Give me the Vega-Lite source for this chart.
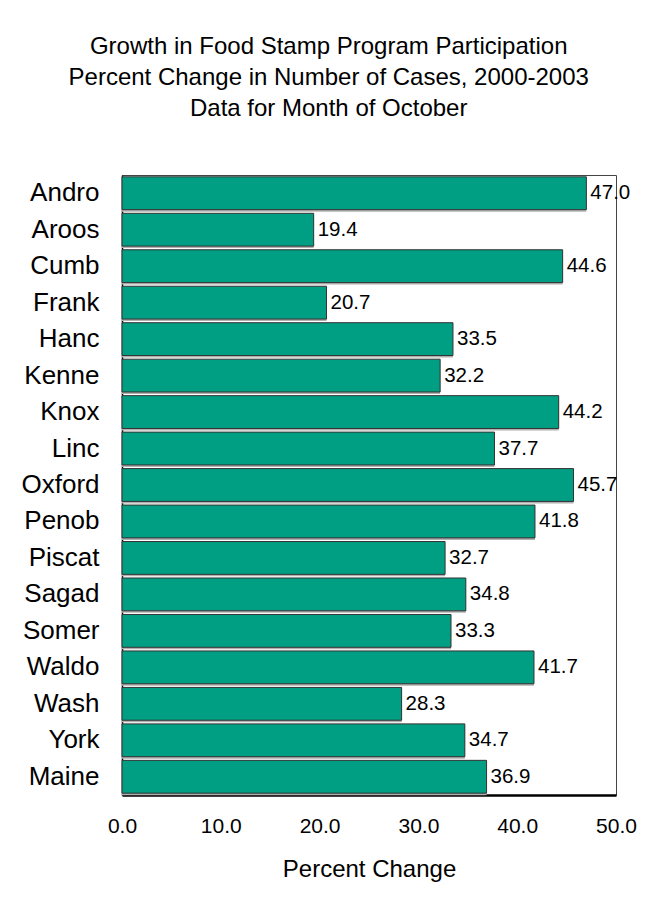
{
  "$schema": "https://vega.github.io/schema/vega-lite/v6.json",
  "width": 494,
  "height": 620,
  "padding": {"left": 20, "top": 35, "right": 5, "bottom": 5},
  "background": "white",
  "title": {
    "text": ["Growth in Food Stamp Program Participation", "Percent Change in Number of Cases, 2000-2003", "Data for Month of October"],
    "font": "Liberation Sans",
    "fontSize": 24,
    "fontWeight": "normal",
    "lineHeight": 31,
    "color": "black",
    "anchor": "middle",
    "frame": "bounds",
    "offset": 54
  },
  "config": {
    "view": {"stroke": "#444", "strokeWidth": 1},
    "font": "Liberation Sans"
  },
  "data": {
    "values": [
      {"county": "Andro", "pct": 47.0},
      {"county": "Aroos", "pct": 19.4},
      {"county": "Cumb", "pct": 44.6},
      {"county": "Frank", "pct": 20.7},
      {"county": "Hanc", "pct": 33.5},
      {"county": "Kenne", "pct": 32.2},
      {"county": "Knox", "pct": 44.2},
      {"county": "Linc", "pct": 37.7},
      {"county": "Oxford", "pct": 45.7},
      {"county": "Penob", "pct": 41.8},
      {"county": "Piscat", "pct": 32.7},
      {"county": "Sagad", "pct": 34.8},
      {"county": "Somer", "pct": 33.3},
      {"county": "Waldo", "pct": 41.7},
      {"county": "Wash", "pct": 28.3},
      {"county": "York", "pct": 34.7},
      {"county": "Maine", "pct": 36.9}
    ]
  },
  "encoding": {
    "y": {
      "field": "county",
      "type": "nominal",
      "sort": null,
      "scale": {"paddingInner": 0.1, "paddingOuter": 0.05},
      "axis": {
        "title": null,
        "ticks": false,
        "labelFontSize": 26,
        "labelColor": "black",
        "labelPadding": 23,
        "domainColor": "black",
        "domainWidth": 1.5
      }
    },
    "x": {
      "field": "pct",
      "type": "quantitative",
      "scale": {"domain": [0, 50], "nice": false},
      "axis": {
        "title": "Percent Change",
        "values": [0, 10, 20, 30, 40, 50],
        "format": ".1f",
        "grid": false,
        "ticks": false,
        "labelFlush": false,
        "labelOverlap": false,
        "labelFontSize": 21,
        "labelColor": "black",
        "labelPadding": 20,
        "titleFontSize": 24,
        "titleFontWeight": "normal",
        "titleColor": "black",
        "titlePadding": 21,
        "domainColor": "black",
        "domainWidth": 2.5
      }
    }
  },
  "layer": [
    {
      "mark": {"type": "bar", "color": "#b0b0b0", "yOffset": 2}
    },
    {
      "mark": {"type": "bar", "color": "#009E82", "stroke": "#333333", "strokeWidth": 1}
    },
    {
      "mark": {"type": "text", "align": "left", "baseline": "middle", "dx": 4, "fontSize": 20.5, "color": "black"},
      "encoding": {"text": {"field": "pct", "type": "quantitative", "format": ".1f"}}
    }
  ]
}
